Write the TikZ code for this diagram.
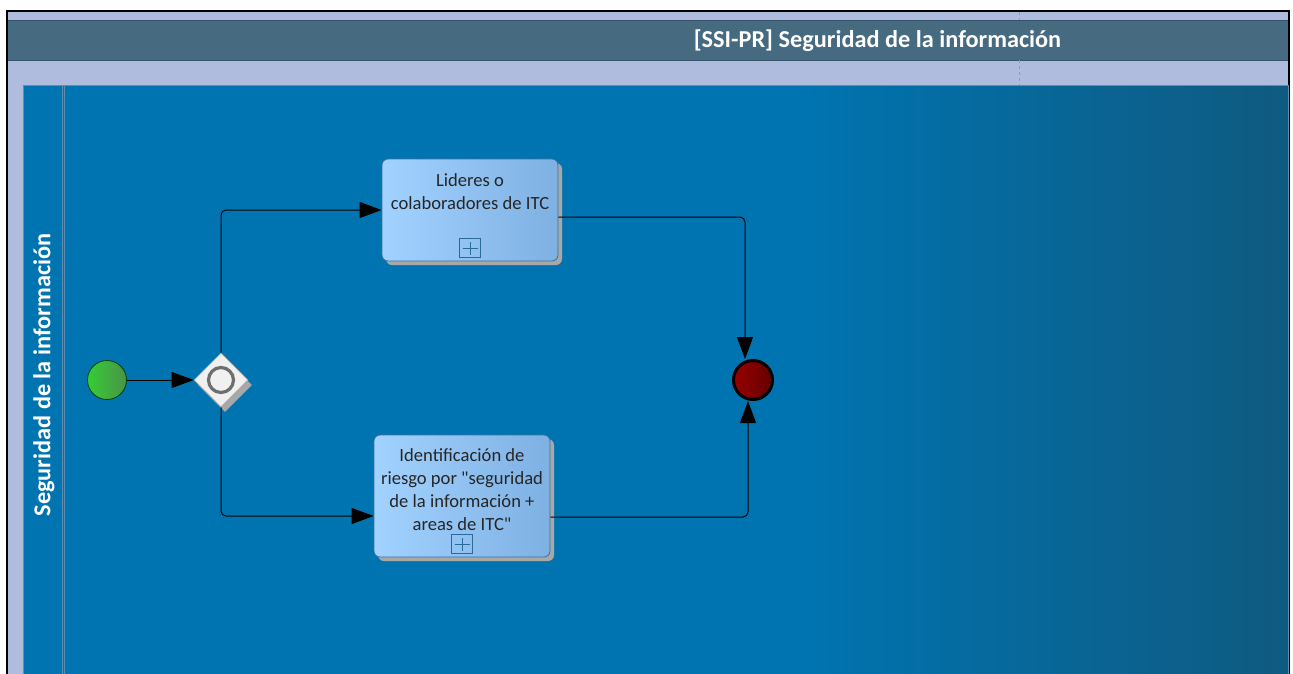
\documentclass[tikz,border=0pt]{standalone}
\usepackage{fontspec}
\setmainfont{Carlito}
\usetikzlibrary{shapes.geometric,arrows.meta,shadows}

\definecolor{poolbg}{HTML}{AFBCDD}
\definecolor{titlebar}{HTML}{466A80}
\definecolor{titleedge}{HTML}{355469}
\definecolor{lanefill}{HTML}{0074B1}
\definecolor{lanedark}{HTML}{0F5A80}
\definecolor{laneedge}{HTML}{5F8FB0}
\definecolor{taskleft}{HTML}{A2D2FF}
\definecolor{taskright}{HTML}{7EB0E2}
\definecolor{taskedge}{HTML}{3F6F95}
\definecolor{shadowgray}{HTML}{A8A8A8}
\definecolor{markeredge}{HTML}{2A6A98}
\definecolor{startleft}{HTML}{35CC35}
\definecolor{startright}{HTML}{4A9448}
\definecolor{endleft}{HTML}{960000}
\definecolor{endright}{HTML}{650000}
\definecolor{gwfill}{HTML}{F0F0F0}
\definecolor{gwring}{HTML}{6E6E6E}

\tikzset{
  task/.style={draw=taskedge, line width=0.8pt, rounded corners=6pt,
    left color=taskleft, right color=taskright, minimum width=176pt,
    drop shadow={shadow xshift=4pt, shadow yshift=-4pt, fill=shadowgray, opacity=1}},
  tasktext/.style={align=center, font=\fontsize{18.6}{23}\selectfont, text=black!85},
  submarker/.style={draw=markeredge, line width=1pt, minimum width=21pt, minimum height=19pt,
    inner sep=0pt, path picture={
      \draw[markeredge, line width=1pt]
        ([yshift=-3pt]path picture bounding box.north) -- ([yshift=3pt]path picture bounding box.south)
        ([xshift=3pt]path picture bounding box.west) -- ([xshift=-3pt]path picture bounding box.east);}},
  flow/.style={draw=black, line width=1pt, rounded corners=5pt,
    -{Triangle[length=22pt,width=16pt]}},
  startev/.style={circle, draw=black!75!green, line width=0.8pt, minimum size=39pt,
    left color=startleft, right color=startright, inner sep=0pt},
  endev/.style={circle, draw=black, line width=3pt, minimum size=39pt,
    left color=endleft, right color=endright, inner sep=0pt},
  gateway/.style={diamond, draw=gray!70, line width=0.6pt, minimum size=54pt, inner sep=0pt,
    fill=gwfill, drop shadow={shadow xshift=4pt, shadow yshift=-5pt, fill=shadowgray, opacity=1}},
  heading/.style={text=white, font=\fontsize{24.3}{26}\selectfont\bfseries}
}

\begin{document}
\begin{tikzpicture}[x=1pt, y=-1pt]
  \useasboundingbox (0,0) rectangle (1293,673);
  \fill[white] (0,0) rectangle (1293,673);

  % pool frame and title bar
  \fill[poolbg] (7,11) rectangle (1289,674);
  \draw[black, line width=1.6pt] (7,674) -- (7,11) -- (1289,11) -- (1289,674);
  \fill[titlebar] (8,20) rectangle (1288,60);
  \draw[titleedge, line width=0.8pt] (8,20) -- (1288,20) (8,60) -- (1288,60);
  \draw[violet!25!poolbg, dashed, line width=0.5pt] (1019,12) -- (1019,20) (1019,60) -- (1019,85);
  \node[heading, anchor=center] (title) at (877.5,41) {[SSI-PR] Seguridad de la información};

  % lane
  \fill[lanefill] (23,85) rectangle (1288,674);
  \shade[left color=lanefill, right color=lanedark] (799,85) rectangle (1288,674);
  \draw[laneedge, line width=0.8pt] (23,674) -- (23,85) -- (1288,85) -- (1288,674);
  \draw[laneedge, line width=0.7pt] (62,85) -- (62,674) (64.5,85) -- (64.5,674);
  \node[heading, rotate=90] (lanelabel) at (44,375) {Seguridad de la información};

  % flow elements
  \node[startev] (start) at (107,380) {};
  \node[gateway] (gw) at (221,380) {};
  \draw[gwring, line width=3.2pt, fill=gwfill] (gw.center) circle (12.5pt);

  \node[task, minimum height=102pt] (t1) at (470,210) {};
  \node[tasktext] (t1text) at (470,191.5) {Lideres o\\colaboradores de ITC};
  \node[submarker] (t1mark) at ([yshift=13pt]t1.south) {};

  \node[task, minimum height=122pt] (t2) at (462,496) {};
  \node[tasktext] (t2text) at (462,489.5) {Identificación de\\riesgo por \textquotedbl seguridad\\de la información +\\areas de ITC\textquotedbl};
  \node[submarker] (t2mark) at ([yshift=13pt]t2.south) {};

  \node[endev] (end) at (753,380) {};

  % sequence flows
  \draw[flow] (start.east) -- (gw.west);
  \draw[flow] (gw.north) |- (t1.west);
  \draw[flow] (gw.south) |- ([yshift=-20pt]t2.west);
  \draw[flow] ([yshift=-7pt]t1.east) -| ([xshift=-8pt]end.north);
  \draw[flow] ([yshift=-21pt]t2.east) -| ([xshift=-5pt]end.south);
\end{tikzpicture}
\end{document}
